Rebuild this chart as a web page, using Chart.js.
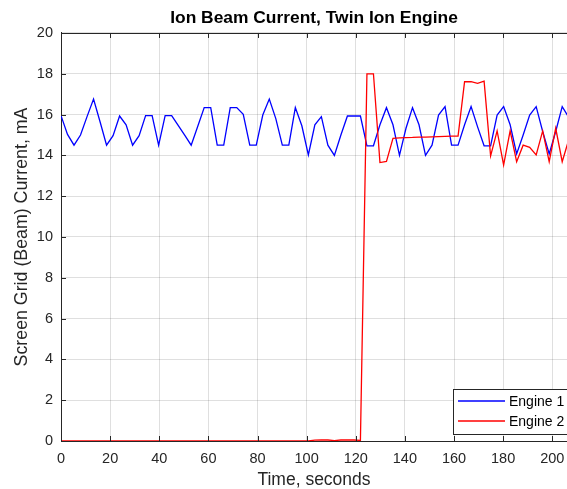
<!DOCTYPE html>
<html>
<head>
<meta charset="utf-8">
<script src="https://cdn.jsdelivr.net/npm/chart.js@4/dist/chart.umd.min.js"></script>
<style>
    html, body { margin: 0; padding: 0; background: #fff; }
    canvas { display: block; }
</style>
</head>
<body>
<canvas id="beam" width="567" height="489"></canvas>
<script>
'use strict'

// time axis, seconds (one sample every ~2.65 s)
const times = [
    0, 2.65, 5.3, 7.95, 10.6, 13.25, 15.9, 18.55, 21.2, 23.85,
    26.5, 29.15, 31.8, 34.45, 37.1, 39.75, 42.4, 45.05, 47.7, 50.35,
    53, 55.65, 58.3, 60.95, 63.6, 66.25, 68.9, 71.55, 74.2, 76.85,
    79.5, 82.15, 84.8, 87.45, 90.1, 92.75, 95.4, 98.05, 100.7, 103.35,
    106, 108.65, 111.3, 113.95, 116.6, 119.25, 121.9, 124.55, 127.2, 129.85,
    132.5, 135.15, 137.8, 140.45, 143.1, 145.75, 148.4, 151.05, 153.7, 156.35,
    159, 161.65, 164.3, 166.95, 169.6, 172.25, 174.9, 177.55, 180.2, 182.85,
    185.5, 188.15, 190.8, 193.45, 196.1, 198.75, 201.4, 204.05, 206.7
];

// screen grid current, mA
const engine1 = [
    15.95, 15.03, 14.5, 15.0, 15.9, 16.76, 15.65, 14.5, 14.97, 15.93,
    15.5, 14.5, 14.97, 15.95, 15.95, 14.5, 15.95, 15.95, 15.47, 14.99,
    14.5, 15.42, 16.34, 16.34, 14.5, 14.5, 16.34, 16.34, 16.01, 14.5,
    14.5, 15.98, 16.76, 15.8, 14.5, 14.5, 16.34, 15.45, 14.02, 15.5,
    15.9, 14.5, 14.0, 15.0, 15.93, 15.93, 15.93, 14.47, 14.47, 15.5,
    16.34, 15.5, 14.0, 15.33, 16.34, 15.5, 14.0, 14.5, 15.98, 16.39,
    14.5, 14.5, 15.5, 16.39, 15.4, 14.47, 14.47, 15.98, 16.39, 15.5,
    14.07, 15.0, 15.98, 16.39, 15.17, 14.07, 15.17, 16.39, 15.86
];

const engine2 = [
    0, 0, 0, 0, 0, 0, 0, 0, 0, 0,
    0, 0, 0, 0, 0, 0, 0, 0, 0, 0,
    0, 0, 0, 0, 0, 0, 0, 0, 0, 0,
    0, 0, 0, 0, 0, 0, 0, 0, 0.01, 0.04,
    0.06, 0.05, 0.02, 0.05, 0.06, 0.05, 0.03, 18.0, 18.0, 13.65,
    13.7, 14.84, 14.86, 14.87, 14.88, 14.9, 14.9, 14.91, 14.92, 14.93,
    14.94, 14.95, 17.61, 17.61, 17.53, 17.64, 13.97, 15.2, 13.53, 15.2,
    13.69, 14.5, 14.39, 14.02, 15.2, 13.69, 15.33, 13.69, 14.76
];

const seriesNames = ['Engine 1', 'Engine 2'];
const seriesColors = ['#0000ff', '#ff0000'];

const fontFamily = '"Liberation Sans", Arial, Helvetica, sans-serif';
const axisColor = '#262626';
const gridColor = 'rgba(38, 38, 38, 0.15)';

function toPoints(values) {
    return times.map((t, i) => ({x: t, y: values[i]}));
}

// matlab-like box: top edge line + ticks pointing inwards
const innerTicks = {
    id: 'innerTicks',
    afterDatasetsDraw(chart) {
        const {ctx, chartArea: a, scales} = chart;
        const len = 5;
        ctx.save();
        ctx.strokeStyle = axisColor;
        ctx.lineWidth = 1;
        ctx.beginPath();
        ctx.moveTo(a.left, Math.round(a.top) + 0.5);
        ctx.lineTo(a.right, Math.round(a.top) + 0.5);
        for (let t of scales.x.ticks) {
            let px = Math.round(scales.x.getPixelForValue(t.value)) + 0.5;
            ctx.moveTo(px, a.bottom);
            ctx.lineTo(px, a.bottom - len);
            ctx.moveTo(px, a.top);
            ctx.lineTo(px, a.top + len);
        };
        for (let t of scales.y.ticks) {
            let py = Math.round(scales.y.getPixelForValue(t.value)) + 0.5;
            ctx.moveTo(a.left, py);
            ctx.lineTo(a.left + len, py);
        };
        ctx.stroke();
        ctx.restore();
    }
};

// legend box in the lower right corner
const boxLegend = {
    id: 'boxLegend',
    afterDraw(chart) {
        const {ctx} = chart;
        const left = 453.5, top = 389.5, bottom = 434.5;
        ctx.save();
        ctx.fillStyle = '#ffffff';
        ctx.fillRect(left, top, 200, bottom - top);
        ctx.strokeStyle = axisColor;
        ctx.lineWidth = 1;
        ctx.strokeRect(left, top, 200, bottom - top);

        ctx.font = `14px ${fontFamily}`;
        ctx.textBaseline = 'middle';
        ctx.textAlign = 'left';
        seriesNames.forEach((name, i) => {
            let y = 401 + i * 20;
            ctx.strokeStyle = seriesColors[i];
            ctx.lineWidth = 1.3;
            ctx.beginPath();
            ctx.moveTo(458, y);
            ctx.lineTo(505, y);
            ctx.stroke();
            ctx.fillStyle = '#000000';
            ctx.fillText(name, 509, y + 1);
        });
        ctx.restore();
    }
};

const ctx = document.getElementById('beam').getContext('2d');

new Chart(ctx, {
    type: 'line',
    data: {
        datasets: [
            {
                label: seriesNames[0],
                data: toPoints(engine1),
                borderColor: seriesColors[0],
                borderWidth: 1.3,
                pointRadius: 0,
                tension: 0,
                fill: false,
                order: 2
            },
            {
                label: seriesNames[1],
                data: toPoints(engine2),
                borderColor: seriesColors[1],
                borderWidth: 1.3,
                pointRadius: 0,
                tension: 0,
                fill: false,
                order: 1
            }
        ]
    },
    options: {
        responsive: false,
        animation: false,
        layout: {padding: 0},
        plugins: {
            legend: {display: false},
            tooltip: {enabled: false},
            title: {
                display: true,
                text: 'Ion Beam Current, Twin Ion Engine',
                fullSize: false,
                color: '#000000',
                font: {family: fontFamily, size: 17.4, weight: 'bold', lineHeight: 1.2},
                padding: {top: 8, bottom: 4.1}
            }
        },
        scales: {
            x: {
                type: 'linear',
                min: 0,
                max: 206,
                ticks: {
                    stepSize: 20,
                    includeBounds: false,
                    maxRotation: 0,
                    padding: 9,
                    color: axisColor,
                    font: {family: fontFamily, size: 14.5}
                },
                grid: {color: gridColor, drawTicks: false},
                border: {color: axisColor, width: 1},
                title: {
                    display: true,
                    text: 'Time, seconds',
                    color: axisColor,
                    font: {family: fontFamily, size: 17.5, lineHeight: 1},
                    padding: {top: 0, bottom: 0}
                },
                afterFit(scale) {
                    scale.height = 48;
                    scale.paddingRight = 0;
                    scale.paddingLeft = 0;
                }
            },
            y: {
                min: 0,
                max: 20,
                ticks: {
                    stepSize: 2,
                    padding: 8,
                    color: axisColor,
                    font: {family: fontFamily, size: 14.5}
                },
                grid: {color: gridColor, drawTicks: false},
                border: {color: axisColor, width: 1},
                title: {
                    display: true,
                    text: 'Screen Grid (Beam) Current, mA',
                    color: axisColor,
                    font: {family: fontFamily, size: 17.8, lineHeight: 1},
                    padding: {top: 13, bottom: 0}
                },
                afterFit(scale) {
                    scale.width = 61;
                    scale.paddingTop = 0;
                    scale.paddingBottom = 0;
                }
            }
        }
    },
    plugins: [innerTicks, boxLegend]
});
</script>
</body>
</html>
